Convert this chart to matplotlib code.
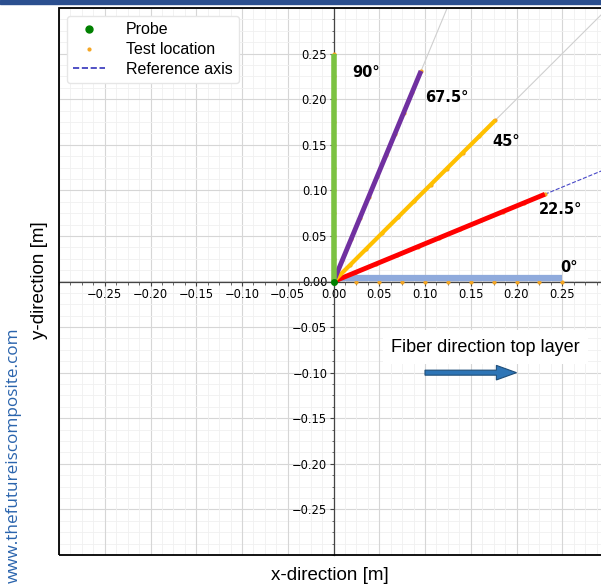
import numpy as np
import matplotlib
matplotlib.use('Agg')
import matplotlib.pyplot as plt
from matplotlib.lines import Line2D
from matplotlib.patches import Rectangle, FancyArrow
from matplotlib.ticker import MultipleLocator

# fiber directions (deg) and test points along each fiber (m)
angles = [0, 22.5, 45, 67.5, 90]
angle_labels = ['0°', '22.5°', '45°', '67.5°', '90°']
fiber_length = 0.25
test_radii = [0.025, 0.05, 0.075, 0.1, 0.125, 0.15, 0.175, 0.2, 0.225, 0.25]
probe = [0.0, 0.0]
ticks = [-0.25, -0.2, -0.15, -0.1, -0.05, 0.0, 0.05, 0.1, 0.15, 0.2, 0.25]

colors = {0: '#8faadc', 22.5: '#ff0000', 45: '#ffc000', 67.5: '#7030a0', 90: '#7cc242'}
widths = {0: 4.5, 22.5: 3.5, 45: 3.0, 67.5: 3.5, 90: 4.0}
label_pos = {0: (0.248, 0.015), 22.5: (0.224, 0.079), 45: (0.174, 0.154),
             67.5: (0.100, 0.202), 90: (0.021, 0.229)}

fig = plt.figure(figsize=(6.01, 5.86), dpi=100)
ax = fig.add_axes([59/601, 31/586, 549/601, 547/586])
ax.set_xlim(-0.3, 0.3)
ax.set_ylim(-0.3, 0.3)

ax.xaxis.set_minor_locator(MultipleLocator(0.0125))
ax.yaxis.set_minor_locator(MultipleLocator(0.0125))
ax.set_xticks(ticks)
ax.set_yticks(ticks)

# grid drawn by hand so it stays below the tick labels
for g in np.arange(-0.3, 0.3001, 0.0125):
    major = abs(g / 0.05 - round(g / 0.05)) < 1e-6
    c, w = ('#d6d6d6', 0.8) if major else ('#f0f0f0', 0.6)
    ax.axvline(g, color=c, lw=w, zorder=0.5)
    ax.axhline(g, color=c, lw=w, zorder=0.5)

ax.spines['left'].set_position('zero')
ax.spines['bottom'].set_position('zero')
ax.spines['right'].set_visible(False)
ax.spines['top'].set_visible(False)
for s in ['left', 'bottom']:
    ax.spines[s].set_color('#444444')
    ax.spines[s].set_linewidth(0.9)
ax.tick_params(which='major', length=3, pad=1.5, labelsize=8.3, color='#444444')
ax.tick_params(which='minor', length=1.8, color='#555555')

# reference axes (extended fiber lines)
for a in angles:
    t = np.deg2rad(a)
    if a == 22.5:
        ax.plot([fiber_length*np.cos(t), 0.6*np.cos(t)], [fiber_length*np.sin(t), 0.6*np.sin(t)],
                ls='--', color='#4848c8', lw=0.8, zorder=2)
    elif a in (45, 67.5):
        ax.plot([0, 0.6*np.cos(t)], [0, 0.6*np.sin(t)], color='#cfcfcf', lw=0.8, zorder=2)

# test locations
for a in angles:
    t = np.deg2rad(a)
    r = np.array(test_radii)
    ax.plot(r*np.cos(t), r*np.sin(t), '.', color='#f5a623', ms=4, zorder=3)

# fibers
for a in angles:
    t = np.deg2rad(a)
    off = 0.0035 if a == 0 else 0.0
    ax.plot([0, fiber_length*np.cos(t)], [off, fiber_length*np.sin(t) + off],
            color=colors[a], lw=widths[a], solid_capstyle='butt', zorder=4)
    ax.text(label_pos[a][0], label_pos[a][1], angle_labels[angles.index(a)],
            fontsize=10.5, fontweight='bold', ha='left', va='center', zorder=6)

ax.plot(probe[0], probe[1], 'o', color='green', ms=4, zorder=5)

# fiber direction note
ax.text(0.166, -0.072, 'Fiber direction top layer', family='Liberation Sans', fontsize=13,
        ha='center', va='center', zorder=6,
        bbox=dict(facecolor='white', edgecolor='none', pad=6))
ax.add_patch(FancyArrow(0.1, -0.1, 0.078, 0, width=0.0055, head_width=0.016, head_length=0.022,
                        length_includes_head=False, fc='#2e75b6', ec='#1f4e79', lw=0.8, zorder=6))

handles = [Line2D([], [], ls='none', marker='o', color='green', ms=5),
           Line2D([], [], ls='none', marker='.', color='#f5a623', ms=4),
           Line2D([], [], ls='--', color='#3333bb', lw=1.2)]
ax.legend(handles, ['Probe', 'Test location', 'Reference axis'], loc='upper left',
          prop={'family': 'Liberation Sans', 'size': 11.5}, handlelength=2, handletextpad=1.3,
          labelspacing=0.3, borderaxespad=0.5, framealpha=1, edgecolor='#e6e6e6')

# outer frame
ax.add_patch(Rectangle((0, 0), 1, 1, transform=ax.transAxes, fill=False, ec='black',
                       lw=1.3, clip_on=False, zorder=10))

fig.text(40/601, 1 - 280/586, 'y-direction [m]', rotation=90, family='Liberation Sans',
         fontsize=13.5, ha='center', va='center')
fig.text(330/601, 1 - 575/586, 'x-direction [m]', family='Liberation Sans',
         fontsize=13.5, ha='center', va='center')
fig.text(14/601, 3/586, 'www.thefutureiscomposite.com', rotation=90, family='Open Sans',
         fontsize=12.3, color='#2a64ad', ha='center', va='bottom')
fig.patches.append(Rectangle((0, 1 - 4/586), 1, 4/586, transform=fig.transFigure,
                             color='#2b4f8f', zorder=10))

fig.savefig('out.png', dpi=100)
